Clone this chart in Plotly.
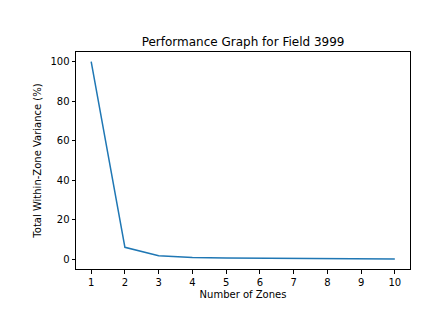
import plotly.graph_objects as go

zones = [1, 2, 3, 4, 5, 6, 7, 8, 9, 10]
variance = [100, 6.0, 1.7, 0.8, 0.6, 0.45, 0.3, 0.2, 0.15, 0.1]
x_ticks = [1, 2, 3, 4, 5, 6, 7, 8, 9, 10]
y_ticks = [0, 20, 40, 60, 80, 100]

fig = go.Figure()
fig.add_trace(go.Scatter(x=zones, y=variance, mode="lines",
                         line=dict(color="#1f77b4", width=1.5), showlegend=False))

axis_common = dict(showline=True, linecolor="black", linewidth=1, mirror=True,
                   ticks="outside", ticklen=3.5, tickwidth=1, tickcolor="black",
                   showgrid=False, zeroline=False,
                   tickfont=dict(family="DejaVu Sans", size=10, color="black"))

fig.update_layout(
    width=446, height=336,
    margin=dict(l=76, r=36, t=52, b=67),
    paper_bgcolor="white", plot_bgcolor="white",
    title=dict(text="Performance Graph for Field 3999", x=0.545, xanchor="center",
               y=1 - 42/336, yanchor="middle",
               font=dict(family="DejaVu Sans", size=12, color="black")),
    xaxis=dict(range=[0.55, 10.45], tickvals=x_ticks,
               title=dict(text="Number of Zones", standoff=4,
                          font=dict(family="DejaVu Sans", size=10, color="black")),
               **axis_common),
    yaxis=dict(range=[-5.0, 104.9], tickvals=y_ticks,
               title=dict(text="Total Within-Zone Variance (%)", standoff=6,
                          font=dict(family="DejaVu Sans", size=10, color="black")),
               **axis_common),
)

fig.write_html("out.html")
